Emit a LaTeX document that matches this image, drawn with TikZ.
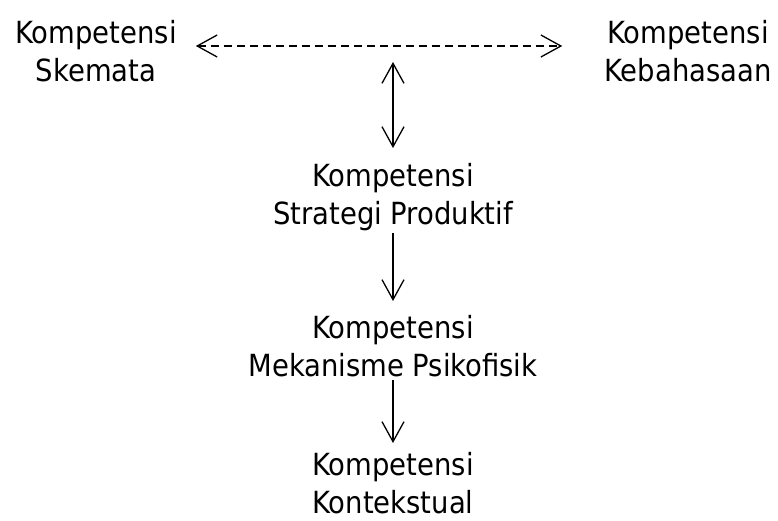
\documentclass[tikz,border=0pt]{standalone}
\usepackage{fontspec}
\setmainfont{DejaVu Sans Condensed}
\usetikzlibrary{arrows.meta}
\begin{document}
\begin{tikzpicture}[x=1pt,y=-1pt,
  label/.style={align=center,inner sep=0pt,font=\fontsize{30.5}{38}\selectfont},
  link/.style={line width=1.3pt,-{Straight Barb[length=20pt,width=22pt,line width=1.3pt]}},
  twoway/.style={line width=1.3pt,{Straight Barb[length=20pt,width=22pt,line width=1.3pt]}-{Straight Barb[length=20pt,width=22pt,line width=1.3pt]}},
  dashedlink/.style={twoway,dash pattern=on 8pt off 5pt}]
  \useasboundingbox (0,0) rectangle (778,520);
  % competence nodes
  \node[label] (skem) at (96,51) {Kompetensi\\Skemata};
  \node[label] (keb) at (688,51) {Kompetensi\\Kebahasaan};
  \node[label] (strat) at (393,197) {Kompetensi\\Strategi Produktif};
  \node[label] (mek) at (393,346) {Kompetensi\\Mekanisme Psikofisik};
  \node[label] (kont) at (393,483) {Kompetensi\\Kontekstual};
  % meeting point below the dashed link
  \coordinate (mid) at (393,62);
  % connectors
  \draw[dashedlink] ([xshift=19pt,yshift=5pt]skem.east) -- ([xshift=-42pt,yshift=5pt]keb.west);
  \draw[twoway] (mid) -- ([yshift=15pt]strat.north);
  \draw[link] ([yshift=-2pt]strat.south) -- ([yshift=14pt]mek.north);
  \draw[link] ([yshift=-3pt]mek.south) -- ([yshift=9pt]kont.north);
\end{tikzpicture}
\end{document}
